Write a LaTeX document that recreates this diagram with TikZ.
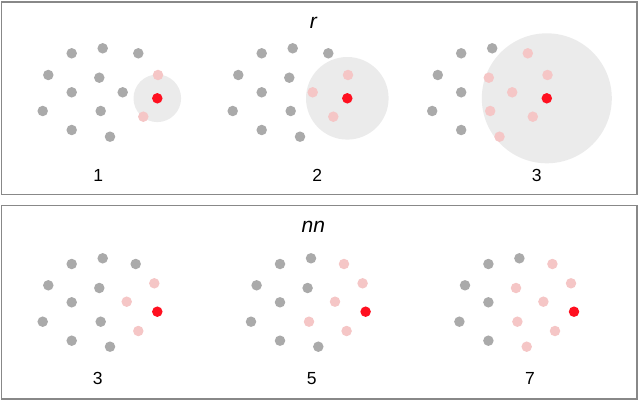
\documentclass[tikz,border=0pt]{standalone}
\usepackage{fontspec}
\setmainfont{Liberation Sans}
\definecolor{dotgray}{HTML}{AAAAAA}
\definecolor{dotpink}{HTML}{F5C6C6}
\definecolor{dotred}{HTML}{FF1020}
\definecolor{zonegray}{HTML}{EBEBEB}
\definecolor{framegray}{HTML}{888888}
\begin{document}
\begin{tikzpicture}[x=1pt,y=-1pt,
  gdot/.style={circle,inner sep=0pt,minimum size=10.5pt,fill=dotgray},
  pdot/.style={circle,inner sep=0pt,minimum size=10.5pt,fill=dotpink},
  rdot/.style={circle,inner sep=0pt,minimum size=10.5pt,fill=dotred},
  zone/.style={circle,inner sep=0pt,fill=zonegray},
  panelbox/.style={draw=framegray,line width=1.8pt},
  numlabel/.style={inner sep=0pt,font=\fontsize{17.5}{20}\selectfont},
  titlelabel/.style={inner sep=0pt,font=\fontsize{21}{24}\selectfont\itshape}]
\useasboundingbox (0,0) rectangle (640,401);
\draw[panelbox] (1.5,2) rectangle (637,194.5);
\draw[panelbox] (1.5,205.5) rectangle (637,399);
\node[titlelabel] (rtitle) at (313.3,23.3) {r};
\node[titlelabel] (nntitle) at (313.3,226.5) {nn};
% ---------- top row: radius ----------
\foreach \dx/\rad/\lab/\lx [count=\p] in {0/47.6/1/98.3, 190/82.6/2/317.3, 389.5/130/3/536.7} {
  \begin{scope}[shift={(\dx,0)}]
    \node[zone,minimum size=\rad pt] (tz\p) at (157.3,98.3) {};
  \end{scope}
}
\foreach \x/\y/\s [count=\i] in {71.7/53.3/gdot, 102.7/48.3/gdot, 138.3/53.3/gdot, 48.3/75/gdot, 99.3/77.7/gdot, 71.7/92.3/gdot, 122.7/92.3/gdot, 42.7/111/gdot, 100.7/111/gdot, 71.7/130/gdot, 110/136.7/gdot, 158/75/pdot, 143.3/116.7/pdot, 157.3/98.3/rdot}
  \node[\s] (ta\i) at (\x,\y) {};
\foreach \x/\y/\s [count=\i] in {71.7/53.3/gdot, 102.7/48.3/gdot, 138.3/53.3/gdot, 48.3/75/gdot, 99.3/77.7/gdot, 71.7/92.3/gdot, 122.7/92.3/pdot, 42.7/111/gdot, 100.7/111/gdot, 71.7/130/gdot, 110/136.7/gdot, 158/75/pdot, 143.3/116.7/pdot, 157.3/98.3/rdot}
  \node[\s] (tb\i) at (\x+190,\y) {};
\foreach \x/\y/\s [count=\i] in {71.7/53.3/gdot, 102.7/48.3/gdot, 138.3/53.3/pdot, 48.3/75/gdot, 99.3/77.7/pdot, 71.7/92.3/gdot, 122.7/92.3/pdot, 42.7/111/gdot, 100.7/111/pdot, 71.7/130/gdot, 110/136.7/pdot, 158/75/pdot, 143.3/116.7/pdot, 157.3/98.3/rdot}
  \node[\s] (tc\i) at (\x+389.5,\y) {};
\node[numlabel] (tl1) at (98.3,175) {1};
\node[numlabel] (tl2) at (317.3,175) {2};
\node[numlabel] (tl3) at (536.7,175) {3};
% ---------- bottom row: nearest neighbours ----------
\foreach \x/\y/\s [count=\i] in {71.7/264/gdot, 102.7/258.3/gdot, 135.7/264/gdot, 48.3/285.3/gdot, 99.3/288/gdot, 71.7/302.3/gdot, 126.7/301.7/pdot, 154.3/283.3/pdot, 42.7/321.7/gdot, 100.7/321.7/gdot, 138.3/331/pdot, 71.7/340.7/gdot, 110/346.7/gdot, 157.3/311.7/rdot}
  \node[\s] (ba\i) at (\x,\y) {};
\foreach \x/\y/\s [count=\i] in {71.7/264/gdot, 102.7/258.3/gdot, 135.7/264/pdot, 48.3/285.3/gdot, 99.3/288/gdot, 71.7/302.3/gdot, 126.7/301.7/pdot, 154.3/283.3/pdot, 42.7/321.7/gdot, 100.7/321.7/pdot, 138.3/331/pdot, 71.7/340.7/gdot, 110/346.7/gdot, 157.3/311.7/rdot}
  \node[\s] (bb\i) at (\x+208.3,\y) {};
\foreach \x/\y/\s [count=\i] in {71.7/264/gdot, 102.7/258.3/gdot, 135.7/264/pdot, 48.3/285.3/gdot, 99.3/288/pdot, 71.7/302.3/gdot, 126.7/301.7/pdot, 154.3/283.3/pdot, 42.7/321.7/gdot, 100.7/321.7/pdot, 138.3/331/pdot, 71.7/340.7/gdot, 110/346.7/pdot, 157.3/311.7/rdot}
  \node[\s] (bc\i) at (\x+416.7,\y) {};
\node[numlabel] (bl1) at (97.7,378.3) {3};
\node[numlabel] (bl2) at (311.7,378.3) {5};
\node[numlabel] (bl3) at (530,378.3) {7};
\end{tikzpicture}
\end{document}
